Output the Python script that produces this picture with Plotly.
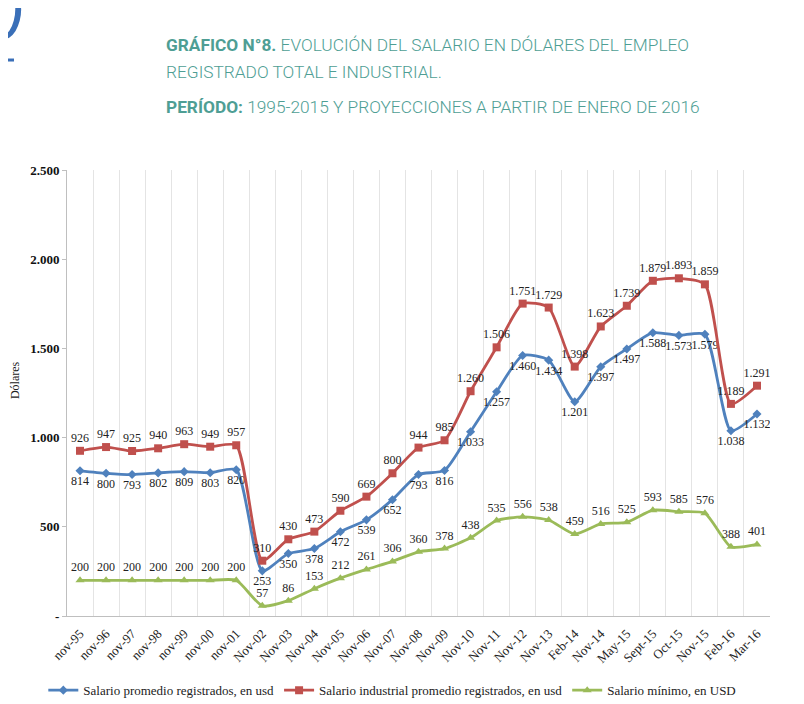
import plotly.graph_objects as go

# categorias del eje x
meses = ['nov-95', 'nov-96', 'nov-97', 'nov-98', 'nov-99', 'nov-00', 'nov-01',
         'Nov-02', 'Nov-03', 'Nov-04', 'Nov-05', 'Nov-06', 'Nov-07', 'Nov-08',
         'Nov-09', 'Nov-10', 'Nov-11', 'Nov-12', 'Nov-13', 'Feb-14', 'Nov-14',
         'May-15', 'Sept-15', 'Oct-15', 'Nov-15', 'Feb-16', 'Mar-16']

# series (usd)
salario_promedio = [814, 800, 793, 802, 809, 803, 820, 253, 350, 378, 472, 539, 652, 793,
                    816, 1033, 1257, 1460, 1434, 1201, 1397, 1497, 1588, 1573, 1579, 1038, 1132]
salario_industrial = [926, 947, 925, 940, 963, 949, 957, 310, 430, 473, 590, 669, 800, 944,
                      985, 1260, 1506, 1751, 1729, 1398, 1623, 1739, 1879, 1893, 1859, 1189, 1291]
salario_minimo = [200, 200, 200, 200, 200, 200, 200, 57, 86, 153, 212, 261, 306, 360,
                  378, 438, 535, 556, 538, 459, 516, 525, 593, 585, 576, 388, 401]

y_ticks = [0, 500, 1000, 1500, 2000, 2500]
y_ticktext = ['-', '500', '1.000', '1.500', '2.000', '2.500']

SERIF = 'Liberation Serif, DejaVu Serif, serif'
TEAL = '#4e9e94'
COND = 'Roboto, Liberation Sans, sans-serif'

fig = go.Figure()

series = [
    ('Salario promedio registrados, en usd', salario_promedio, '#4f81bd', 'diamond', 7, 'bottom center'),
    ('Salario industrial promedio registrados, en usd', salario_industrial, '#c0504d', 'square', 8, 'top center'),
    ('Salario mínimo, en USD', salario_minimo, '#9bbb59', 'triangle-up', 8, 'top center'),
]
for nombre, vals, color, simbolo, tam, pos in series:
    fig.add_trace(go.Scatter(
        x=meses, y=vals, name=nombre,
        mode='lines+markers+text',
        line=dict(color=color, width=2.8, shape='spline', smoothing=0.6),
        marker=dict(symbol=simbolo, size=tam, color=color),
        texttemplate='%{y:,}', textposition=pos,
        textfont=dict(family=SERIF, size=12, color='#222222'),
    ))

fig.update_layout(
    width=804, height=704,
    margin=dict(l=59, r=42, t=162, b=96),
    plot_bgcolor='white', paper_bgcolor='white',
    separators=',.',
    showlegend=True,
    legend=dict(orientation='h', xref='container', yref='container',
                x=0.478, xanchor='center', y=0.031, yanchor='middle',
                font=dict(family=SERIF, size=13, color='#222222'), itemwidth=30,
                tracegroupgap=0),
    font=dict(family=SERIF),
)

fig.update_xaxes(
    type='category', range=[-0.5, 26.5], automargin=False,
    tickson='boundaries', showgrid=True, gridcolor='#e4e4e4', gridwidth=1,
    showline=True, linecolor='#bfbfbf', ticks='', tickangle=-45, ticklabelstandoff=4,
    tickfont=dict(family=SERIF, size=13, color='#222222'),
)
fig.update_yaxes(
    range=[0, 2500], tickvals=y_ticks, ticktext=y_ticktext, automargin=False,
    showgrid=False, zeroline=False, showline=True, linecolor='#bfbfbf',
    ticks='outside', ticklen=4, tickcolor='#bfbfbf',
    tickfont=dict(family=SERIF, size=13, color='#111111', weight='bold'),
)

# titulo del eje y
fig.add_annotation(text='Dólares', xref='paper', yref='paper', x=-0.074, y=0.529,
                   xanchor='center', yanchor='middle', textangle=-90, showarrow=False,
                   font=dict(family=SERIF, size=12, color='#222222'))

# titulo del grafico
titulos = [
    ('<b>GRÁFICO N°8.</b> EVOLUCIÓN DEL SALARIO EN DÓLARES DEL EMPLEO', 1.280),
    ('REGISTRADO TOTAL E INDUSTRIAL.', 1.220),
    ('<b>PERÍODO:</b> 1995-2015 Y PROYECCIONES A PARTIR DE ENERO DE 2016', 1.141),
]
for txt, yy in titulos:
    fig.add_annotation(text=txt, xref='paper', yref='paper', x=0.138, y=yy,
                       xanchor='left', yanchor='middle', showarrow=False,
                       font=dict(family=COND, size=17.3, color=TEAL, weight=300))

# logo cortado arriba a la izquierda
fig.add_annotation(text='<i>0</i>', xref='paper', yref='paper', x=-0.058, y=1.34,
                   xanchor='right', yanchor='middle', showarrow=False,
                   font=dict(family='DejaVu Sans', size=60, color='#3a6fb8'))
fig.add_shape(type='line', xref='paper', yref='paper', x0=-0.095, x1=-0.0754,
              y0=1.2466, y1=1.2466, line=dict(color='#3a6fb8', width=3))

fig.write_html('out.html')
